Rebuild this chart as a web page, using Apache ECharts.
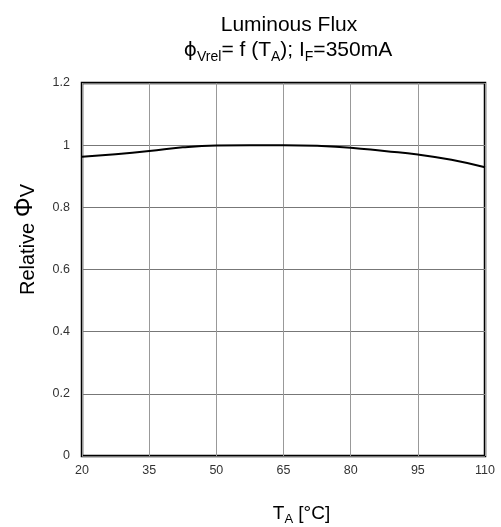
<!DOCTYPE html>
<html><head><meta charset="utf-8">
<script src="https://cdn.jsdelivr.net/npm/echarts@6/dist/echarts.min.js"></script>
<style>html,body{margin:0;padding:0;background:#fff}#c{width:501px;height:527px}</style>
</head><body><div id="c"></div>
<script>
var temps = [20, 27.5, 35, 42.5, 50, 57.5, 65, 72.5, 80, 87.5, 95, 102.5, 110];
var fluxRel = [0.963, 0.971, 0.981, 0.993, 0.999, 1.0, 1.0, 0.998, 0.992, 0.981, 0.97, 0.953, 0.929];
var xTicks = [20, 35, 50, 65, 80, 95, 110];
var yTicks = [0, 0.2, 0.4, 0.6, 0.8, 1, 1.2];

var chart = echarts.init(document.getElementById('c'));
var F = 'Liberation Sans, Arial, sans-serif';
chart.setOption({
  animation: false,
  backgroundColor: '#fff',
  title: [{
    text: 'Luminous Flux',
    left: 284, top: 10, textAlign: 'center',
    textStyle: {fontFamily: F, fontSize: 21, fontWeight: 'normal', color: '#000'}
  }, {
    text: '{p|\u03D5}{s|Vrel}{n|= f (T}{s|A}{n|); I}{s|F}{n|=350mA}',
    left: 283, top: 31, textAlign: 'center',
    textStyle: {fontFamily: F, fontSize: 21, fontWeight: 'normal', color: '#000',
      rich: {
        n: {fontFamily: F, fontSize: 21, color: '#000', verticalAlign: 'bottom', lineHeight: 25},
        p: {fontFamily: 'DejaVu Sans, sans-serif', fontSize: 20, color: '#000', verticalAlign: 'bottom', lineHeight: 25},
        s: {fontFamily: F, fontSize: 14, color: '#000', verticalAlign: 'bottom', lineHeight: 17, padding: [0,0,-3,0]}
      }}
  }],
  grid: {left: 82, top: 83, right: 16, bottom: 71, outerBoundsMode: 'none', containLabel: false,
    show: true, borderColor: '#000', borderWidth: 2.5, backgroundColor: 'transparent'},
  xAxis: {
    type: 'value', min: 20, max: 110, interval: 15,
    axisLine: {show: false}, axisTick: {show: false},
    axisLabel: {fontFamily: F, fontSize: 12.5, color: '#333', margin: 8},
    splitLine: {show: true, lineStyle: {color: '#999', width: 1}},
    name: '{n|T}{s|A}{n| [°C]}', nameLocation: 'middle', nameGap: 45,
    nameTextStyle: {fontFamily: F, fontSize: 19, color: '#000', padding: [0,0,0,36],
      rich: {
        n: {fontFamily: F, fontSize: 19, color: '#000', verticalAlign: 'bottom', lineHeight: 22},
        s: {fontFamily: F, fontSize: 13, color: '#000', verticalAlign: 'bottom', lineHeight: 16, padding: [0,0,-3,0]}
      }}
  },
  yAxis: {
    type: 'value', min: 0, max: 1.2, interval: 0.2,
    axisLine: {show: false}, axisTick: {show: false},
    axisLabel: {fontFamily: F, fontSize: 12.5, color: '#333', margin: 12},
    splitLine: {show: true, lineStyle: {color: '#777', width: 1}},
    name: '{n|Relative }{p|Φ}{n|V}', nameLocation: 'middle', nameGap: 44, nameRotate: 90,
    nameTextStyle: {fontFamily: F, fontSize: 20, color: '#000', padding: [0,0,0,60],
      rich: {
        n: {fontFamily: F, fontSize: 20, color: '#000', verticalAlign: 'bottom', lineHeight: 26},
        p: {fontFamily: F, fontSize: 25, color: '#000', verticalAlign: 'bottom', lineHeight: 26}
      }}
  },
  series: [{
    type: 'line', smooth: true, symbol: 'none',
    data: temps.map(function (t, i) { return [t, fluxRel[i]]; }),
    lineStyle: {color: '#000', width: 2}
  }]
});
</script></body></html>
